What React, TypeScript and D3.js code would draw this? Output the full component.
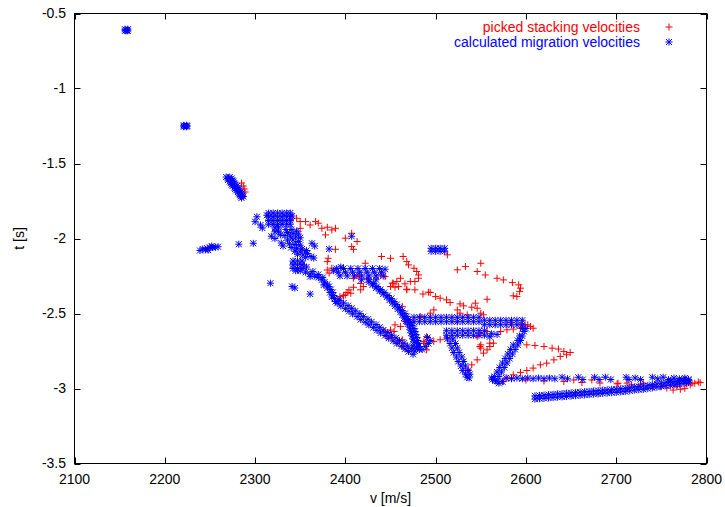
import React from 'react';
import * as d3 from 'd3';

const width = 725;
const height = 507;
const margin = { top: 13.5, right: 18.5, bottom: 43.5, left: 74.5 };

const xTicks = [2100, 2200, 2300, 2400, 2500, 2600, 2700, 2800];
const yTicks = [-3.5, -3, -2.5, -2, -1.5, -1, -0.5];
const xTitle = 'v [m/s]';
const yTitle = 't [s]';
const seriesNames = ['picked stacking velocities', 'calculated migration velocities'];
const seriesColors = ['#ff0000', '#0000ff'];

type Pt = [number, number];

// ---- picked stacking velocities (red +) ----
const pickedTop: Pt[] = [
  [2285, -1.63], [2287, -1.65], [2288, -1.67], [2289, -1.69],
  [2339, -1.876], [2346, -1.865], [2350, -1.887], [2356, -1.887], [2361, -1.91], [2367, -1.887],
  [2370, -1.898], [2374, -1.932], [2380, -1.925], [2385, -1.943], [2389, -1.932], [2350, -1.932], [2378, -1.976],
];
const pickedMiddle: Pt[] = [
  [2400, -1.998], [2407, -1.965], [2413, -2.02], [2407, -2.054], [2409, -2.072], [2389, -2.072],
  [2381, -2.132], [2380, -2.154], [2352, -2.076], [2354, -2.176], [2380, -2.21], [2385, -2.198], [2382, -2.23],
  [2422, -2.165], [2440, -2.12], [2450, -2.132], [2464, -2.12], [2468, -2.154], [2470, -2.176], [2476, -2.198],
  [2479, -2.22], [2481, -2.243], [2481, -2.265], [2477, -2.287], [2472, -2.287], [2461, -2.265], [2457, -2.287],
  [2452, -2.298], [2450, -2.32], [2444, -2.254], [2439, -2.243], [2415, -2.254], [2409, -2.265], [2413, -2.243],
  [2453, -2.298], [2455, -2.325], [2459, -2.32], [2466, -2.302], [2468, -2.338],
  [2394, -2.387], [2400, -2.376], [2404, -2.342], [2409, -2.325], [2417, -2.3], [2424, -2.265],
  [2402, -2.36], [2406, -2.365], [2398, -2.38], [2417, -2.342], [2420, -2.32],
];
const pickedRight: Pt[] = [
  [2468, -2.342], [2477, -2.342], [2494, -2.36], [2500, -2.387], [2505, -2.398], [2512, -2.409], [2516, -2.427],
  [2527, -2.436], [2531, -2.449], [2540, -2.458], [2544, -2.431], [2546, -2.465], [2550, -2.498], [2553, -2.509],
  [2524, -2.476], [2527, -2.498], [2535, -2.509], [2463, -2.453], [2492, -2.358], [2486, -2.37],
  [2513, -2.109], [2524, -2.209], [2533, -2.187], [2550, -2.165], [2546, -2.22], [2555, -2.243], [2568, -2.265],
  [2575, -2.276], [2585, -2.294], [2592, -2.309], [2594, -2.331], [2593, -2.354], [2590, -2.387], [2586, -2.382],
  [2557, -2.405],
];
const pickedValleys: Pt[] = [
  [2446, -2.653], [2450, -2.61], [2454, -2.62], [2461, -2.587], [2444, -2.62], [2455, -2.576], [2466, -2.554],
  [2472, -2.543], [2483, -2.52], [2494, -2.498], [2498, -2.476], [2452, -2.66], [2458, -2.69], [2464, -2.72],
  [2470, -2.745], [2483, -2.72], [2490, -2.698], [2498, -2.686], [2505, -2.675], [2513, -2.664], [2463, -2.675],
  [2490, -2.653], [2487, -2.687], [2490, -2.743], [2487, -2.698],
  [2524, -2.555], [2550, -2.631], [2557, -2.62], [2572, -2.62], [2579, -2.609], [2586, -2.604], [2594, -2.598],
  [2599, -2.576], [2605, -2.587], [2608, -2.598], [2583, -2.56], [2595, -2.57], [2602, -2.575], [2550, -2.709],
  [2560, -2.698], [2550, -2.731], [2553, -2.764], [2546, -2.809], [2540, -2.842], [2536, -2.875], [2560, -2.72],
  [2557, -2.742], [2546, -2.654], [2564, -2.698], [2549, -2.72],
];
const pickedLower: Pt[] = [
  [2601, -2.709], [2610, -2.713], [2620, -2.72], [2629, -2.731], [2636, -2.737], [2642, -2.753], [2649, -2.76],
  [2645, -2.775], [2638, -2.786], [2631, -2.809], [2623, -2.831], [2616, -2.842], [2608, -2.864], [2601, -2.88],
  [2594, -2.893], [2586, -2.909], [2579, -2.931], [2575, -2.953],
  [2642, -2.953], [2662, -2.96], [2682, -2.964], [2701, -2.969], [2712, -2.964], [2727, -2.975], [2741, -2.986],
  [2756, -2.997], [2767, -2.986], [2778, -2.969], [2784, -2.964], [2791, -2.957], [2653, -2.943], [2673, -2.943],
  [2702, -2.965], [2717, -2.976], [2730, -2.965], [2749, -2.987], [2763, -3.01], [2771, -3.005], [2776, -2.999],
  [2782, -2.976], [2787, -2.965], [2793, -2.961], [2584, -2.932], [2600, -2.943], [2620, -2.95],
];

// ---- calculated migration velocities (blue *) ----
const migrationClusters: Pt[] = [
  [2156, -0.605], [2159, -0.605], [2157, -0.61], [2158, -0.615], [2156, -0.615], [2159, -0.615],
  [2221, -1.245], [2224, -1.245], [2222, -1.25], [2225, -1.25], [2221, -1.255], [2224, -1.255],
  [2495, -2.065], [2500, -2.065], [2505, -2.065], [2510, -2.065], [2495, -2.085], [2500, -2.085], [2505, -2.085], [2510, -2.085],
];
const migrationSteep: Pt[] = [
  [2268, -1.59], [2272, -1.59], [2270, -1.6], [2274, -1.6], [2270, -1.61], [2275, -1.61], [2272, -1.62], [2276, -1.62],
  [2273, -1.63], [2277, -1.63], [2274, -1.64], [2278, -1.64], [2275, -1.65], [2280, -1.65], [2277, -1.66], [2281, -1.66],
  [2278, -1.67], [2282, -1.67], [2279, -1.68], [2283, -1.68], [2281, -1.69], [2284, -1.69], [2282, -1.7], [2285, -1.7],
  [2283, -1.71], [2286, -1.71], [2284, -1.72], [2287, -1.72], [2285, -1.73],
];
const migrationBlob: Pt[] = [
  [2315, -1.83], [2320, -1.83], [2325, -1.83], [2330, -1.83], [2335, -1.83], [2339, -1.83],
  [2315, -1.855], [2320, -1.855], [2325, -1.855], [2330, -1.855], [2335, -1.855], [2339, -1.855],
  [2315, -1.88], [2320, -1.88], [2325, -1.88], [2330, -1.88], [2335, -1.88], [2339, -1.88],
  [2315, -1.905], [2320, -1.905], [2325, -1.905], [2330, -1.905], [2335, -1.905], [2339, -1.905],
  [2313, -1.845], [2341, -1.85],
];
const migrationScattered: Pt[] = [
  [2302, -1.855], [2300, -1.888], [2306, -1.91], [2308, -1.93], [2322, -1.93], [2326, -1.93], [2322, -1.955],
  [2326, -1.955], [2318, -1.985], [2322, -2.0], [2328, -1.976], [2282, -2.038], [2298, -2.032], [2363, -2.032],
  [2366, -2.05], [2382, -2.07], [2407, -1.985], [2361, -2.254], [2317, -2.298], [2341, -2.32], [2344, -2.33],
  [2361, -2.37],
  [2239, -2.08], [2242, -2.07], [2245, -2.075], [2247, -2.065], [2250, -2.06], [2253, -2.06], [2256, -2.058],
  [2259, -2.055], [2252, -2.05], [2248, -2.078],
];
const migrationDescent: Pt[] = [
  [2334, -1.94], [2340, -1.94], [2346, -1.95], [2336, -1.96], [2342, -1.965], [2348, -1.97], [2333, -1.98],
  [2339, -1.985], [2345, -1.99], [2350, -1.995], [2336, -2.01], [2342, -2.01], [2348, -2.02], [2329, -2.03],
  [2338, -2.035], [2344, -2.04], [2350, -2.045], [2331, -2.05], [2340, -2.06], [2346, -2.065], [2352, -2.07],
  [2344, -2.085], [2350, -2.09], [2357, -2.08], [2347, -2.105], [2353, -2.11], [2358, -2.1], [2356, -2.125],
  [2362, -2.12], [2365, -2.13], [2342, -2.15], [2347, -2.15], [2352, -2.15], [2342, -2.175], [2347, -2.175],
  [2352, -2.175], [2342, -2.2], [2347, -2.2], [2352, -2.2], [2357, -2.19], [2345, -2.215], [2350, -2.215],
  [2356, -2.225], [2361, -2.235], [2366, -2.25], [2370, -2.26], [2374, -2.275], [2377, -2.29], [2380, -2.305],
  [2382, -2.32], [2384, -2.34], [2386, -2.36], [2387, -2.38], [2388, -2.4], [2389, -2.42], [2376, -2.31],
  [2380, -2.33], [2383, -2.36], [2385, -2.39], [2392, -2.41], [2364, -2.22], [2370, -2.24], [2375, -2.26],
];
const migrationDiagonal: Pt[] = [
  [2391, -2.432], [2395, -2.45], [2400, -2.468], [2404, -2.485], [2408, -2.503], [2413, -2.521], [2417, -2.541],
  [2422, -2.558], [2426, -2.576], [2431, -2.594], [2435, -2.612], [2439, -2.63], [2444, -2.647], [2448, -2.665],
  [2453, -2.683], [2457, -2.701], [2462, -2.718], [2466, -2.736], [2470, -2.754], [2475, -2.772],
  [2394, -2.412], [2398, -2.43], [2403, -2.448], [2407, -2.465], [2411, -2.483], [2416, -2.501], [2420, -2.521],
  [2425, -2.538], [2429, -2.556], [2434, -2.574], [2438, -2.592], [2442, -2.61], [2447, -2.627], [2451, -2.645],
  [2456, -2.663], [2460, -2.681], [2465, -2.698], [2469, -2.716], [2473, -2.734],
];
const migrationShelf: Pt[] = [
  [2390, -2.2], [2398, -2.2], [2406, -2.2], [2414, -2.2], [2422, -2.2], [2430, -2.2], [2438, -2.2], [2444, -2.205],
  [2392, -2.225], [2400, -2.225], [2408, -2.225], [2416, -2.225], [2424, -2.225], [2432, -2.225], [2440, -2.225],
  [2394, -2.25], [2402, -2.25], [2410, -2.25], [2418, -2.25], [2426, -2.25], [2434, -2.25], [2442, -2.25],
  [2418, -2.275], [2426, -2.275], [2434, -2.275], [2395, -2.19], [2387, -2.215],
];
const migrationArm: Pt[] = [
  [2426, -2.29], [2430, -2.31], [2434, -2.33], [2438, -2.35], [2442, -2.37], [2446, -2.39], [2449, -2.41],
  [2452, -2.43], [2455, -2.45], [2458, -2.47], [2461, -2.49], [2463, -2.51], [2465, -2.53], [2467, -2.55],
  [2469, -2.57], [2471, -2.59], [2472, -2.61], [2473, -2.63], [2474, -2.65], [2475, -2.67], [2476, -2.69],
  [2476, -2.71], [2477, -2.73], [2477, -2.75],
  [2431, -2.3], [2435, -2.32], [2439, -2.34], [2443, -2.36], [2447, -2.38], [2451, -2.4], [2454, -2.42],
  [2457, -2.44], [2460, -2.46], [2463, -2.48], [2466, -2.5], [2468, -2.52], [2470, -2.54], [2472, -2.56],
  [2474, -2.58], [2476, -2.6], [2477, -2.62], [2478, -2.64], [2479, -2.66], [2480, -2.68], [2481, -2.7],
  [2481, -2.72], [2482, -2.74], [2485, -2.74], [2489, -2.72], [2492, -2.7], [2494, -2.68], [2491, -2.66],
];
const migrationBands: Pt[] = [
  [2476, -2.525], [2482, -2.525], [2488, -2.525], [2494, -2.525], [2500, -2.525], [2506, -2.525], [2512, -2.525],
  [2518, -2.525], [2524, -2.525], [2530, -2.525], [2536, -2.525], [2542, -2.525], [2548, -2.525],
  [2476, -2.555], [2482, -2.555], [2488, -2.555], [2494, -2.555], [2500, -2.555], [2506, -2.555], [2512, -2.555],
  [2518, -2.555], [2524, -2.555], [2530, -2.555], [2536, -2.555], [2542, -2.555], [2548, -2.555],
  [2554, -2.545], [2560, -2.545], [2566, -2.545], [2572, -2.545], [2578, -2.545], [2584, -2.545], [2590, -2.545], [2596, -2.545],
  [2554, -2.575], [2560, -2.575], [2566, -2.575], [2572, -2.575], [2578, -2.575], [2584, -2.575], [2590, -2.575], [2596, -2.575],
  [2600, -2.6], [2596, -2.6],
  [2512, -2.615], [2518, -2.615], [2524, -2.615], [2530, -2.615], [2536, -2.615], [2542, -2.615], [2548, -2.615], [2554, -2.615],
  [2512, -2.645], [2518, -2.645], [2524, -2.645], [2530, -2.645], [2536, -2.645], [2542, -2.645], [2548, -2.645], [2554, -2.645],
  [2562, -2.635], [2568, -2.64], [2560, -2.655],
];
const migrationValley: Pt[] = [
  [2513, -2.67], [2516, -2.7], [2518, -2.73], [2520, -2.76], [2523, -2.79], [2525, -2.82], [2528, -2.85],
  [2530, -2.88], [2533, -2.905], [2535, -2.925],
  [2519, -2.67], [2522, -2.7], [2524, -2.73], [2526, -2.76], [2529, -2.79], [2531, -2.82], [2533, -2.85],
  [2536, -2.88], [2538, -2.905], [2537, -2.93],
  [2598, -2.62], [2596, -2.65], [2594, -2.68], [2591, -2.71], [2588, -2.74], [2585, -2.77], [2582, -2.8],
  [2579, -2.83], [2576, -2.86], [2573, -2.89], [2570, -2.92], [2568, -2.95],
  [2593, -2.65], [2591, -2.68], [2586, -2.71], [2583, -2.74], [2580, -2.77], [2577, -2.8], [2574, -2.83],
  [2571, -2.86], [2568, -2.89], [2565, -2.92], [2563, -2.94],
  [2562, -2.93], [2566, -2.95], [2570, -2.965], [2574, -2.955],
];
const migrationRow: Pt[] = [
  [2578, -2.93], [2584, -2.935], [2590, -2.93], [2596, -2.935], [2602, -2.93], [2608, -2.935], [2614, -2.93],
  [2620, -2.935], [2626, -2.93], [2632, -2.935], [2640, -2.925], [2646, -2.935], [2658, -2.925], [2663, -2.94],
  [2676, -2.925], [2681, -2.94], [2688, -2.925], [2694, -2.94], [2711, -2.925], [2714, -2.94], [2721, -2.93],
  [2727, -2.94], [2740, -2.925], [2746, -2.935], [2752, -2.925], [2758, -2.94], [2764, -2.93], [2770, -2.935],
  [2776, -2.93], [2760, -2.95], [2768, -2.955], [2774, -2.95], [2780, -2.945],
];
const migrationBottom: Pt[] = [
  [2610, -3.049], [2615, -3.046], [2620, -3.044], [2625, -3.041], [2630, -3.039], [2635, -3.036], [2640, -3.034],
  [2645, -3.031], [2650, -3.029], [2655, -3.026], [2660, -3.024], [2665, -3.021], [2670, -3.019], [2675, -3.016],
  [2680, -3.014], [2685, -3.011], [2690, -3.009], [2695, -3.006], [2700, -3.004], [2705, -3.001], [2710, -2.999],
  [2715, -2.994], [2720, -2.989], [2725, -2.986], [2730, -2.984], [2735, -2.979], [2740, -2.974], [2745, -2.969],
  [2750, -2.964], [2755, -2.959], [2760, -2.957], [2765, -2.954], [2770, -2.949], [2775, -2.944], [2780, -2.939],
  [2610, -3.071], [2615, -3.068], [2620, -3.066], [2625, -3.063], [2630, -3.061], [2635, -3.058], [2640, -3.056],
  [2645, -3.053], [2650, -3.051], [2655, -3.048], [2660, -3.046], [2665, -3.043], [2670, -3.041], [2675, -3.038],
  [2680, -3.036], [2685, -3.033], [2690, -3.031], [2695, -3.028], [2700, -3.026], [2705, -3.023], [2710, -3.021],
  [2715, -3.016], [2720, -3.011], [2725, -3.008], [2730, -3.006], [2735, -3.001], [2740, -2.996], [2745, -2.991],
  [2750, -2.986], [2755, -2.981], [2760, -2.979], [2765, -2.976], [2770, -2.971], [2775, -2.966], [2780, -2.961],
];

const picked: Pt[] = [...pickedTop, ...pickedMiddle, ...pickedRight, ...pickedValleys, ...pickedLower];
const migration: Pt[] = [
  ...migrationClusters, ...migrationSteep, ...migrationBlob, ...migrationScattered, ...migrationDescent,
  ...migrationDiagonal, ...migrationShelf, ...migrationArm, ...migrationBands, ...migrationValley,
  ...migrationRow, ...migrationBottom,
];

const font = '"Liberation Sans", Arial, Helvetica, sans-serif';

// gnuplot point type 1 (+) and 3 (*)
const plusPath = (x: number, y: number, r = 3.5) =>
  `M${x - r},${y}H${x + r}M${x},${y - r}V${y + r}`;
const starPath = (x: number, y: number, r = 3.5) =>
  plusPath(x, y, r) + `M${x - r + 0.5},${y - r + 0.5}L${x + r - 0.5},${y + r - 0.5}M${x - r + 0.5},${y + r - 0.5}L${x + r - 0.5},${y - r + 0.5}`;

export default function App() {
  const x = d3.scaleLinear().domain([2100, 2800]).range([margin.left, width - margin.right]);
  const y = d3.scaleLinear().domain([-3.5, -0.5]).range([height - margin.bottom, margin.top]);
  const x0 = margin.left, x1 = width - margin.right;
  const y0 = margin.top, y1 = height - margin.bottom;
  const tick = 6;

  const redD = picked.map(([v, t]) => plusPath(x(v), y(t))).join('');
  const blueD = migration.map(([v, t]) => starPath(x(v), y(t))).join('');

  return (
    <svg width={width} height={height} style={{ position: 'absolute', left: 0, top: 0, background: '#fff' }}
      fontFamily={font} fontSize={14}>
      <rect x={0} y={0} width={width} height={height} fill="#fff" />
      {/* ticks */}
      <g stroke="#000" strokeWidth={1}>
        {xTicks.map(d => (
          <g key={'x' + d}>
            <line x1={Math.round(x(d)) + 0.5} x2={Math.round(x(d)) + 0.5} y1={y1} y2={y1 - tick} />
            <line x1={Math.round(x(d)) + 0.5} x2={Math.round(x(d)) + 0.5} y1={y0} y2={y0 + tick} />
          </g>
        ))}
        {yTicks.map(d => (
          <g key={'y' + d}>
            <line x1={x0} x2={x0 + tick} y1={Math.round(y(d)) + 0.5} y2={Math.round(y(d)) + 0.5} />
            <line x1={x1} x2={x1 - tick} y1={Math.round(y(d)) + 0.5} y2={Math.round(y(d)) + 0.5} />
          </g>
        ))}
      </g>
      {/* tick labels */}
      <g fill="#000">
        {xTicks.map(d => (
          <text key={'xl' + d} x={x(d)} y={484} textAnchor="middle">{String(d)}</text>
        ))}
        {yTicks.map(d => (
          <text key={'yl' + d} x={66} y={y(d)} dy="0.35em" textAnchor="end">{String(d)}</text>
        ))}
        <text x={(x0 + x1) / 2} y={503} textAnchor="middle">{xTitle}</text>
        <text transform={`translate(24,${(y0 + y1) / 2}) rotate(-90)`} textAnchor="middle">{yTitle}</text>
      </g>
      {/* data */}
      <path d={redD} stroke={seriesColors[0]} strokeWidth={1} fill="none" />
      <path d={blueD} stroke={seriesColors[1]} strokeWidth={1} fill="none" />
      {/* legend */}
      {seriesNames.map((name, i) => (
        <g key={name}>
          <text x={640} y={27 + i * 15} dy="0.35em" textAnchor="end" fill={seriesColors[i]}>{name}</text>
          <path d={i === 0 ? plusPath(669, 27) : starPath(669, 42)} stroke={seriesColors[i]} strokeWidth={1} fill="none" />
        </g>
      ))}
      {/* frame */}
      <rect x={x0} y={y0} width={x1 - x0} height={y1 - y0} fill="none" stroke="#000" strokeWidth={1} />
    </svg>
  );
}
